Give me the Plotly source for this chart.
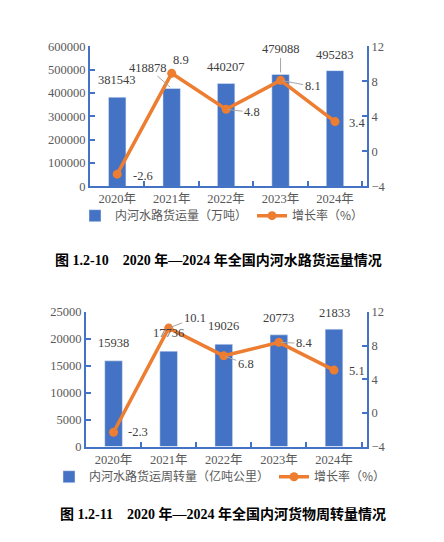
import plotly.graph_objects as go

# ---- data ----
years = ["2020年", "2021年", "2022年", "2023年", "2024年"]

freight = [381543, 418878, 440207, 479088, 495283]       # 万吨
freight_growth = [-2.6, 8.9, 4.8, 8.1, 3.4]

turnover = [15938, 17736, 19026, 20773, 21833]           # 亿吨公里
turnover_growth = [-2.3, 10.1, 6.8, 8.4, 5.1]

freight_ticks = [0, 100000, 200000, 300000, 400000, 500000, 600000]
turnover_ticks = [0, 5000, 10000, 15000, 20000, 25000]
growth_ticks = [-4, 0, 4, 8, 12]

BLUE = "#4472C4"
ORANGE = "#ED7D31"
GREY = "#595959"
SERIF = "Liberation Serif, Noto Sans CJK SC"
CJK = "Noto Sans CJK SC"

W, H = 444, 542
OFF = 8  # page body margin


def px(x):
    return (x - OFF) / W


def py(y):
    return 1 - (y - OFF) / H


fig = go.Figure()

# chart 1
fig.add_trace(go.Bar(x=years, y=freight, name="内河水路货运量（万吨）",
                     marker_color=BLUE, width=0.32,
                     xaxis="x", yaxis="y", legend="legend"))
fig.add_trace(go.Scatter(x=years, y=freight_growth, name="增长率（%）",
                         mode="lines+markers",
                         line=dict(color=ORANGE, width=3.5),
                         marker=dict(color=ORANGE, size=9),
                         xaxis="x", yaxis="y2", legend="legend"))

# chart 2
fig.add_trace(go.Bar(x=years, y=turnover, name="内河水路货运周转量（亿吨公里）",
                     marker_color=BLUE, width=0.32,
                     xaxis="x2", yaxis="y3", legend="legend2"))
fig.add_trace(go.Scatter(x=years, y=turnover_growth, name="增长率（%）",
                         mode="lines+markers",
                         line=dict(color=ORANGE, width=3.5),
                         marker=dict(color=ORANGE, size=9),
                         xaxis="x2", yaxis="y4", legend="legend2"))

lbl_font = dict(family=SERIF, size=12.5, color="#404040")


def label(xref, yref, x, y, text, dx, dy, arrow=False):
    # dx, dy in px; dy positive = up
    if arrow:
        fig.add_annotation(xref=xref, yref=yref, x=x, y=y, text=text,
                           showarrow=True, arrowhead=0, arrowwidth=1,
                           arrowcolor="#A6A6A6", ax=dx, ay=-dy, standoff=2,
                           font=lbl_font)
    else:
        fig.add_annotation(xref=xref, yref=yref, x=x, y=y, text=text,
                           showarrow=False, xshift=dx, yshift=dy,
                           font=lbl_font)


# chart 1 labels
bar_off1 = [(0, 17, False), (-24, 21, True), (0, 17, False), (0, 25, True), (0, 16, False)]
for yr, v, (dx, dy, a) in zip(years, freight, bar_off1):
    label("x", "y", yr, v, str(v), dx, dy, a)
line_off1 = [(26, -2, False), (9, 13, False), (26, -3, True), (32, -6, True), (22, -1, False)]
for yr, v, (dx, dy, a) in zip(years, freight_growth, line_off1):
    label("x", "y2", yr, v, str(v), dx, dy, a)

# chart 2 labels
bar_off2 = [(0, 18, False), (0, 18, False), (0, 18, False), (0, 17, False), (0, 16, False)]
for yr, v, (dx, dy, a) in zip(years, turnover, bar_off2):
    label("x2", "y3", yr, v, str(v), dx, dy, a)
line_off2 = [(24, 0, False), (26, 10, True), (22, -8, True), (25, -1, True), (23, -1, False)]
for yr, v, (dx, dy, a) in zip(years, turnover_growth, line_off2):
    label("x2", "y4", yr, v, str(v), dx, dy, a)

# captions
fig.add_annotation(xref="paper", yref="paper", x=px(218), y=py(260),
                   xanchor="center", yanchor="middle",
                   text="<b>图 1.2-10    2020 年—2024 年全国内河水路货运量情况</b>",
                   showarrow=False, font=dict(family=SERIF, size=14, color="black"))
fig.add_annotation(xref="paper", yref="paper", x=px(223), y=py(520),
                   xanchor="center", yanchor="middle",
                   text="<b>图 1.2-11    2020 年—2024 年全国内河货物周转量情况</b>",
                   showarrow=False, font=dict(family=SERIF, size=14, color="black"))

xax = dict(type="category", showline=True, linecolor=BLUE, linewidth=2,
           ticks="inside", tickson="boundaries", ticklen=5, tickcolor=BLUE,
           tickwidth=2, tickfont=dict(family=SERIF, size=12.5, color=GREY),
           showgrid=False, zeroline=False, fixedrange=True)
yax = dict(showline=True, linecolor=BLUE, linewidth=2, ticks="inside",
           ticklen=5, tickcolor=BLUE, tickwidth=2, showgrid=False,
           zeroline=False, tickformat="d",
           tickfont=dict(family=SERIF, size=12.5, color=GREY))

leg = dict(orientation="h", xanchor="center", yanchor="middle",
           font=dict(family=CJK, size=12, color=GREY),
           itemwidth=30, tracegroupgap=0, bgcolor="rgba(0,0,0,0)")

fig.update_layout(
    width=W, height=H,
    margin=dict(l=0, r=0, t=0, b=0),
    paper_bgcolor="white", plot_bgcolor="white",
    showlegend=True,
    xaxis=dict(xax, domain=[px(90), px(367)], anchor="y"),
    yaxis=dict(yax, domain=[py(184), py(40)], anchor="x",
               range=[0, 600000], tickvals=freight_ticks),
    yaxis2=dict(yax, overlaying="y", side="right", anchor="x",
                range=[-4, 12], tickvals=growth_ticks),
    xaxis2=dict(xax, domain=[px(86), px(367)], anchor="y3"),
    yaxis3=dict(yax, domain=[py(451), py(313)], anchor="x2",
                range=[0, 25000], tickvals=turnover_ticks),
    yaxis4=dict(yax, overlaying="y3", side="right", anchor="x2",
                range=[-4, 12], tickvals=growth_ticks),
    legend=dict(leg, x=px(222), y=py(214)),
    legend2=dict(leg, x=px(220), y=py(482)),
)

fig.write_html("out.html")
